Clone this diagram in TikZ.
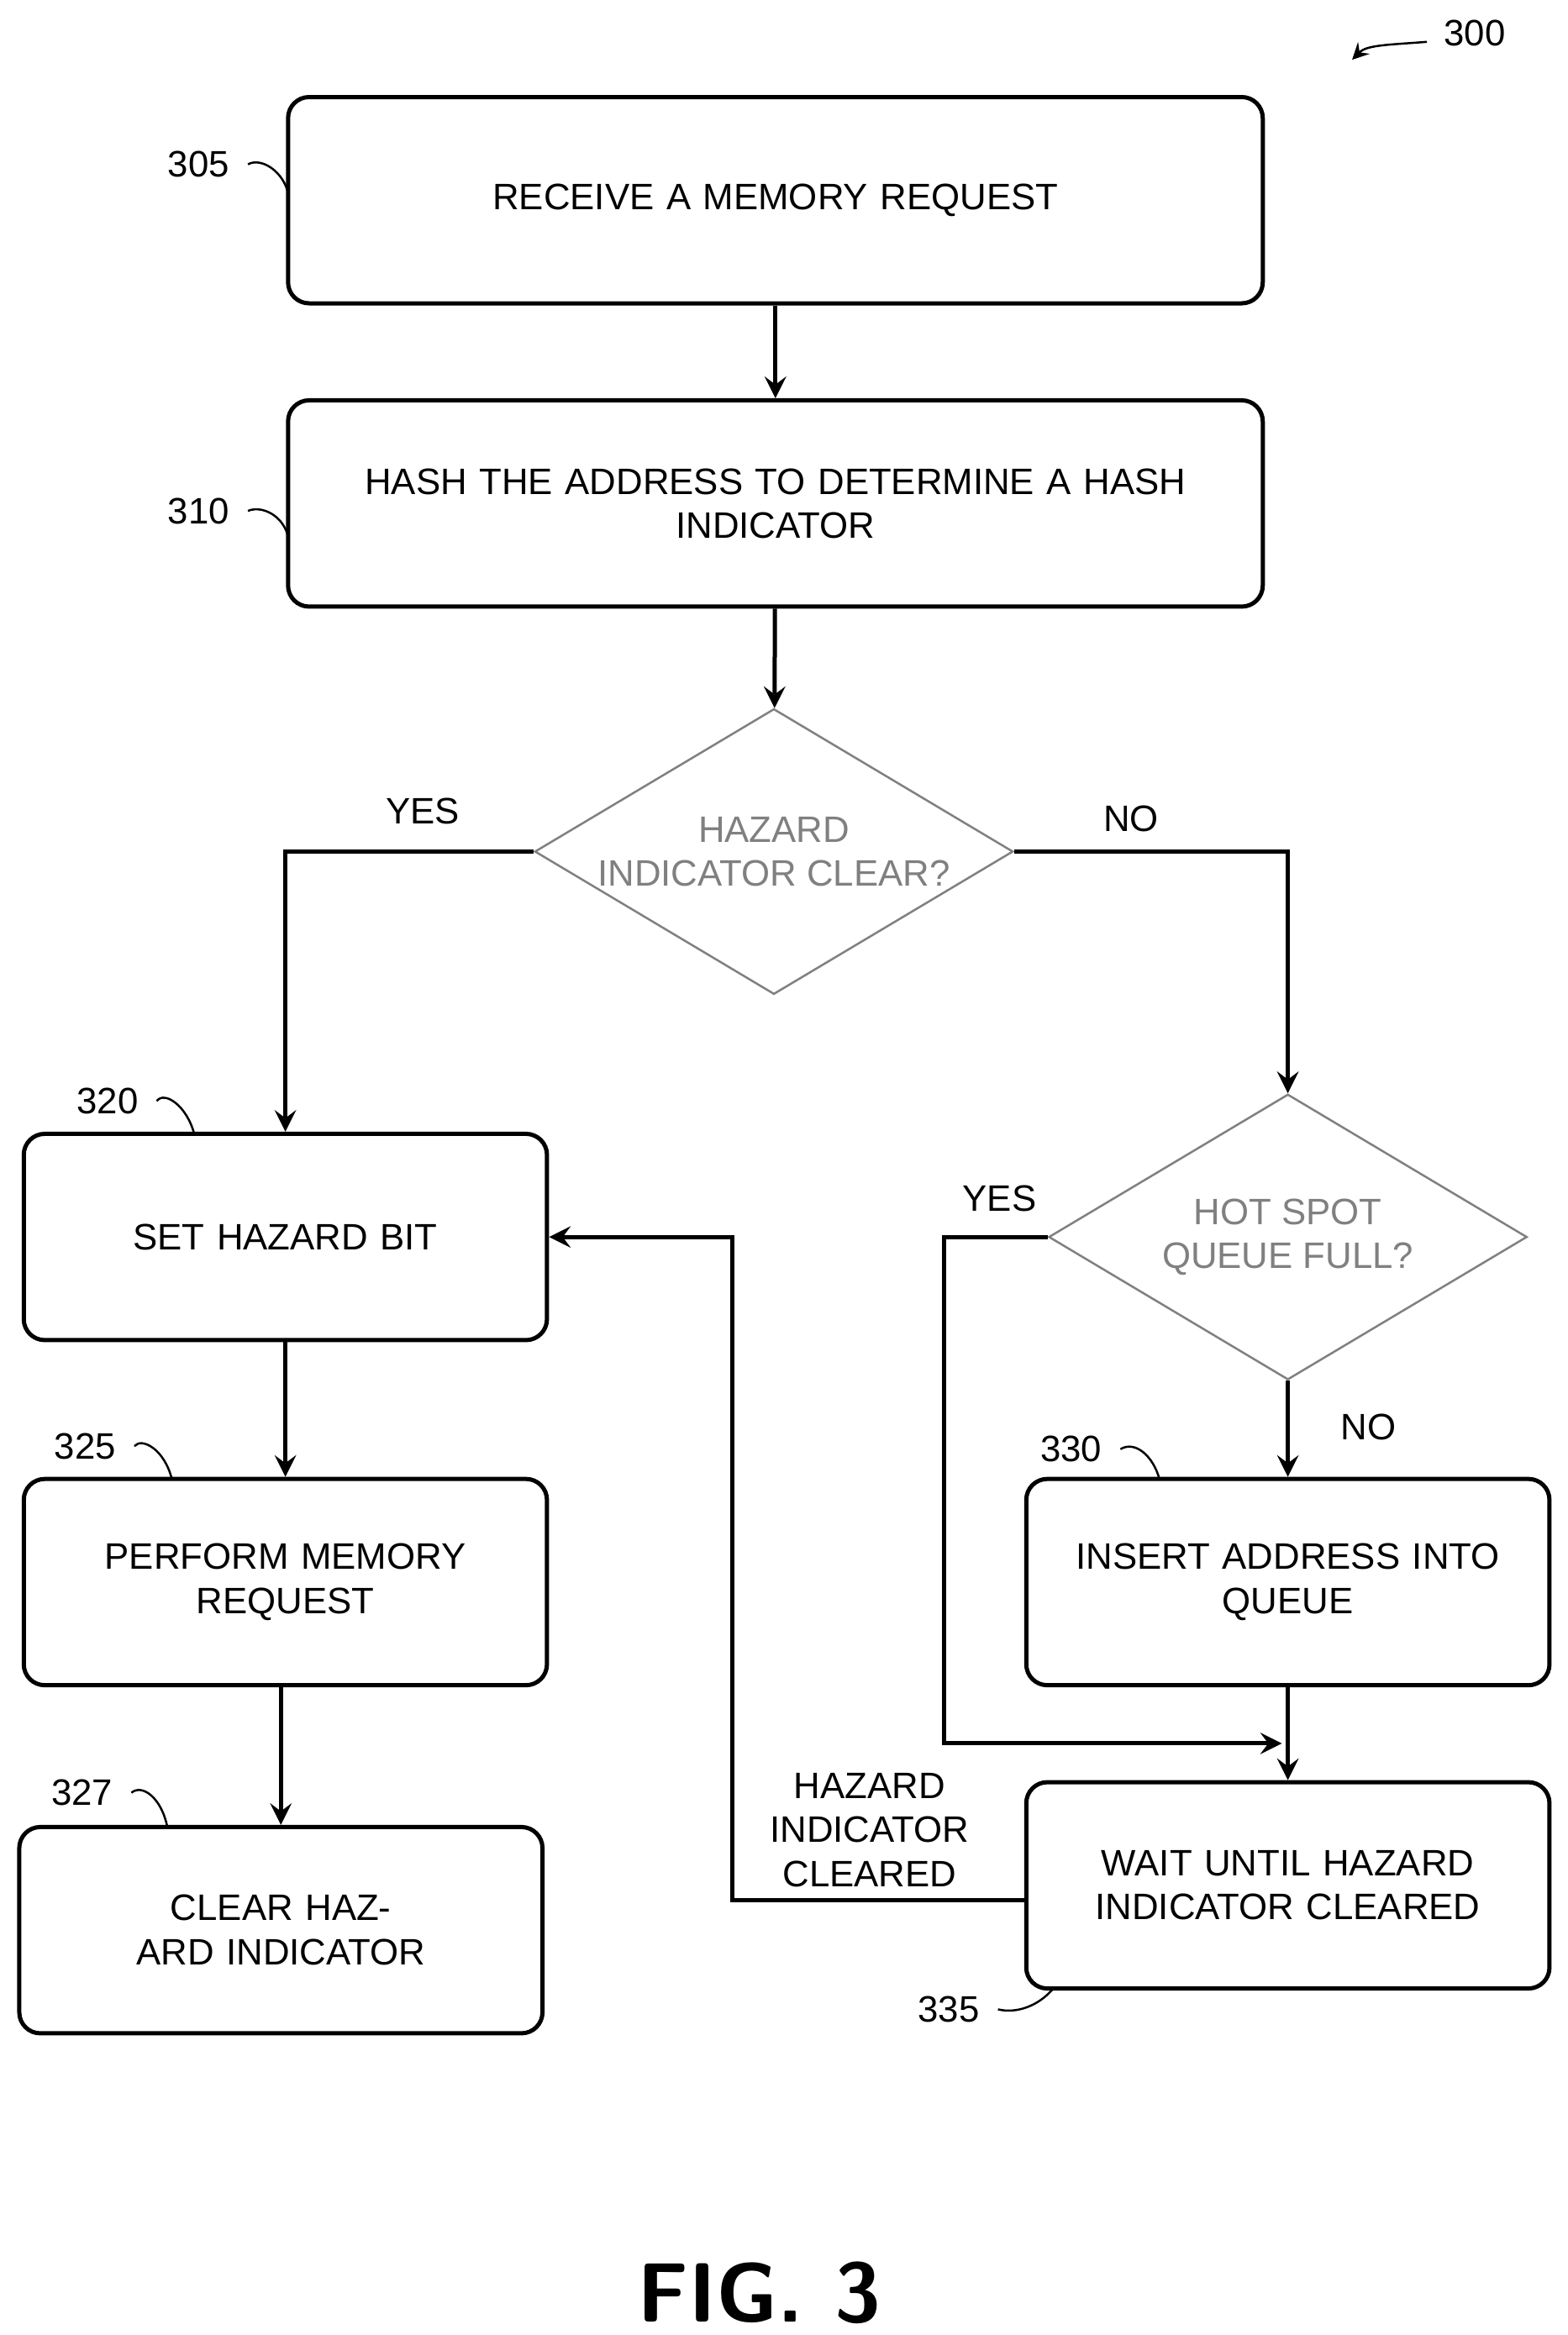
\documentclass[tikz,border=0pt]{standalone}
\usepackage{fontspec}
\setmainfont{Liberation Sans}
\usetikzlibrary{arrows,positioning,shapes.geometric}
\begin{document}
\begin{tikzpicture}[x=0.01cm,y=-0.01cm,font=\fontsize{7}{8.4}\selectfont,
  box/.style={draw,rounded corners=4pt,thick,minimum width=3.5cm,minimum height=1.38cm,align=center,text width=3.1cm},
  wbox/.style={box,minimum width=6.52cm,text width=5.6cm},
  dec/.style={draw,gray,diamond,aspect=1.68,minimum width=3.2cm,minimum height=1.91cm,inner sep=0pt,align=center},
  ln/.style={thick},
  arr/.style={thick,-stealth},
  lead/.style={thin}]
\useasboundingbox (0,0) rectangle (1049,1563);
% boxes
\node[wbox] (recv) at (519,134) {RECEIVE A MEMORY REQUEST};
\node[wbox] (hash) at (519,337) {HASH THE ADDRESS TO DETERMINE A HASH\\INDICATOR};
\node[dec] (clr) at (518,570) {HAZARD\\INDICATOR CLEAR?};
\node[box] (set) at (191,828) {SET HAZARD BIT};
\node[dec] (full) at (862,828) {HOT SPOT\\QUEUE FULL?};
\node[box] (perf) at (191,1059) {PERFORM MEMORY\\REQUEST};
\node[box] (ins) at (862,1059) {INSERT ADDRESS INTO\\QUEUE};
\node[box] (clear) at (188,1292) {CLEAR HAZARD INDICATOR};
\node[box] (wait) at (862,1262) {WAIT UNTIL HAZARD\\INDICATOR CLEARED};
\node[font=\sffamily\bfseries\fontsize{16}{18}\selectfont] (fig) at (508,1535) {FIG. 3};
% connectors
\draw[arr] (recv) -- (hash);
\draw[arr] (hash) -- (clr);
\draw[arr] (clr.west) -| (set.north);
\draw[arr] (clr.east) -| (full.north);
\draw[arr] (full) -- (ins);
\draw[arr] (ins) -- (wait);
\draw[arr] (set) -- (perf);
\draw[arr] (perf.south -| clear.north) -- (clear);
\coordinate (qy) at (858,1167);
\draw[arr] (full.west) -- (632,828) |- (qy);
\draw[arr] (wait.west |- 0,1272) -- (490,1272) |- (set.east);
% labels
\node (yes1) at (283,543) {YES};
\node (no1) at (757,548) {NO};
\node (yes2) at (669,802) {YES};
\node (no2) at (916,955) {NO};
\node[align=center] (hic) at (582,1225) {HAZARD\\INDICATOR\\CLEARED};
% reference numerals
\node (n300) at (987,22) {300};
\draw[lead,-stealth] (955,28) .. controls (930,30) and (915,30) .. (905,40);
\node (n305) at (133,110) {305};
\draw[lead] (n305.east) .. controls (175,105) and (190,115) .. (193,130);
\node (n310) at (133,342) {310};
\draw[lead] (n310.east) .. controls (175,338) and (190,345) .. (193,360);
\node (n320) at (72,737) {320};
\draw[lead] (n320.east) .. controls (110,730) and (125,740) .. (130,759);
\node (n325) at (57,968) {325};
\draw[lead] (n325.east) .. controls (95,962) and (110,970) .. (115,990);
\node (n327) at (55,1200) {327};
\draw[lead] (n327.east) .. controls (95,1194) and (108,1203) .. (112,1223);
\node (n330) at (717,970) {330};
\draw[lead] (n330.east) .. controls (760,964) and (772,975) .. (776,990);
\node (n335) at (635,1345) {335};
\draw[lead] (n335.east) .. controls (680,1348) and (695,1343) .. (705,1331);
\end{tikzpicture}
\end{document}
